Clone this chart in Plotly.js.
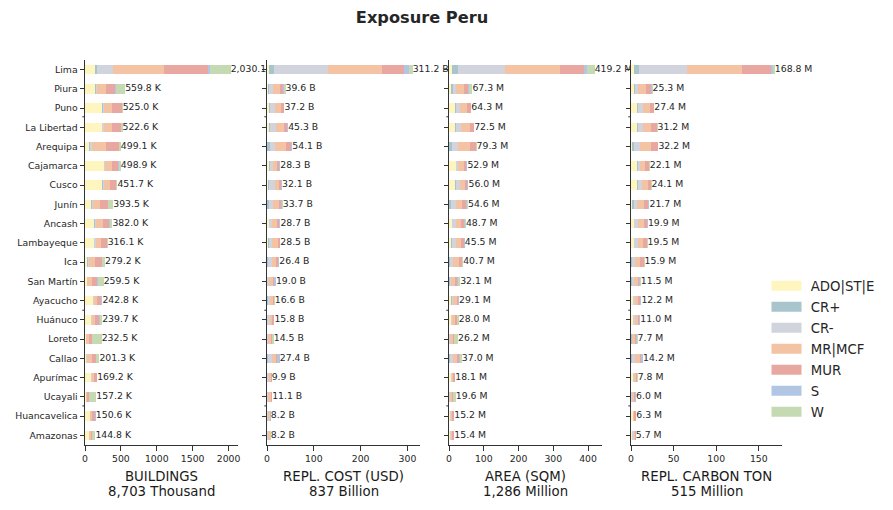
<!DOCTYPE html>
<html>
<head>
<meta charset="utf-8">
<script src="https://cdn.plot.ly/plotly-3.0.1.min.js"></script>
<style>html,body{margin:0;padding:0;background:#fff}#chart{width:893px;height:510px}</style>
</head>
<body>
<div id="chart"></div>
<script>
// ---------------- DATA ----------------
const categories = ["Lima","Piura","Puno","La Libertad","Arequipa","Cajamarca","Cusco","Junín","Ancash","Lambayeque","Ica","San Martín","Ayacucho","Huánuco","Loreto","Callao","Apurímac","Ucayali","Huancavelica","Amazonas"];
const classes = ["ADO|ST|E","CR+","CR-","MR|MCF","MUR","S","W"];

// BUILDINGS (thousand)
const bld_ADO = [140,140,240,238,51,262,240,80,132,126,23,23,107,84,9,9,84,9,70,56];
const bld_CRp = [30,14,14,5,19,5,5,14,5,5,14,5,5,5,3,5,3,3,3,3];
const bld_CRm = [215,18,9,23,23,5,23,23,14,19,19,5,19,5,3,14,9,3,3,3];
const bld_MR  = [715,121,118,112,195,100,84,95,104,70,84,62,33,47,42,64,28,19,23,19];
const bld_MUR = [610,131,130,121,182,90,75,102,85,88,93,77,65,57,37,59,37,23,47,19];
const bld_S   = [35,9,5,5,5,9,5,9,5,5,5,5,5,5,3,5,3,3,1,3];
const bld_W   = [285,127,9,19,24,28,20,71,37,3,41,83,9,37,135,45,5,97,4,42];
const bld_total = [2030.1,559.8,525.0,522.6,499.1,498.9,451.7,393.5,382.0,316.1,279.2,259.5,242.8,239.7,232.5,201.3,169.2,157.2,150.6,144.8];

// REPL. COST (billion USD)
const cost_ADO = [3.6,2.3,4.5,4.3,0.5,4.4,2.9,0.5,3.8,3.0,0.5,0.5,0.7,0.5,0.3,0.3,0.7,0.3,0.3,0.5];
const cost_CRp = [11,2.3,2.3,2.9,5.8,2.2,2.2,3.6,0.8,0.7,2.3,0.5,2.2,0.5,0.3,2.2,0.3,0.3,0.3,0.2];
const cost_CRm = [115,9,10.5,11.7,10.8,5.2,11.5,9.4,5.2,6.0,8.4,2.9,3.5,5.8,1.4,9.2,2.9,1.4,0.7,0.5];
const cost_MR  = [115,15,12.6,17.5,23.8,9.0,9.3,12.2,11.4,13.4,8.5,8.4,7.0,3.6,6.3,7.1,5.0,6.5,5.0,5.0];
const cost_MUR = [48,6,6,6.6,10.5,5.2,3.5,3.6,4.5,4.5,4.6,2.2,1.4,3.6,1.4,3.6,0.7,1.4,0.7,0.7];
const cost_S   = [11,1.4,0.8,1.5,2.2,1.5,2.2,2.2,2.3,0.6,1.5,4.2,0.6,1.5,1.4,4.7,0.3,0.7,1.2,0.3];
const cost_W   = [7.5,3.6,0.5,0.8,0.5,0.8,0.5,2.2,0.7,0.3,0.6,0.3,1.2,0.3,3.4,0.3,0.0,0.5,0.0,1.0];
const cost_total = [311.2,39.6,37.2,45.3,54.1,28.3,32.1,33.7,28.7,28.5,26.4,19.0,16.6,15.8,14.5,27.4,9.9,11.1,8.2,8.2];

// AREA (million sqm)
const area_ADO = [10,7,17,17,1,19,17,1,8,7,1,1,7,5,0.5,0.5,5,0.5,4,4];
const area_CRp = [15,5,2,2,8,1,2,4,2,1,2,1,1,1,0.5,2,0.5,0.5,0.3,0.3];
const area_CRm = [135,7,13,16,17,6,13,15,9,11,9,3,4,4,1,9,2,0.5,1,0.7];
const area_MR  = [158,25,21,24,33,16,15,18.6,15.7,16,17.7,11.1,10.1,7,8.2,11.5,5.1,6.1,3,4];
const area_MUR = [70,11.3,9,12.5,17.3,6.9,5.5,9,8,9,8,6,4,5,4,7,4,3,5,4];
const area_S   = [9,2,1.8,0.5,1,2,3,3,2,1,1,3,2,1,1,2,0.5,0.5,0.5,0.4];
const area_W   = [22,10,0.5,0.5,2,2,0.5,4,4,0.5,2,7,1,5,11,5,1,8.5,1.4,2];
const area_total = [419.2,67.3,64.3,72.5,79.3,52.9,56.0,54.6,48.7,45.5,40.7,32.1,29.1,28.0,26.2,37.0,18.1,19.6,15.2,15.4];

// REPL. CARBON (million ton)
const carb_ADO = [3.9,3.5,7.2,7.0,1.2,7.0,7.0,1.2,3.5,3.5,0.4,0.4,2.3,2.0,0.3,0.3,2.3,0.2,2.0,1.2];
const carb_CRp = [5.9,0.8,0.8,0.8,2.3,1.2,0.8,2.0,0.4,0.4,1.2,0.4,0.4,0.4,0.3,0.8,0.3,0.2,0.2,0.2];
const carb_CRm = [56,4.3,5.7,6.3,6.5,2.7,5.6,4.3,4.8,4.8,2.7,2.3,2.0,2.3,0.8,3.7,1.3,0.4,0.4,1.6];
const carb_MR  = [64,9.0,8.2,9.5,13.2,6.0,6.0,8.3,6.0,5.7,6.6,5.1,3.9,3.1,3.5,5.7,1.8,3.1,1.2,2.0];
const carb_MUR = [34,6.1,4.9,6.6,8.1,3.9,3.6,4.3,4.0,4.1,3.9,1.6,2.3,2.0,1.2,1.7,1.3,1.2,1.6,0.4];
const carb_S   = [2.7,0.8,0.4,0.6,0.6,0.8,0.8,0.8,0.8,0.6,0.6,1.2,0.8,0.6,1.2,1.6,0.5,0.5,0.4,0.2];
const carb_W   = [2.3,0.8,0.2,0.4,0.3,0.5,0.3,0.8,0.4,0.4,0.5,0.5,0.5,0.6,0.4,0.4,0.3,0.4,0.5,0.1];
const carb_total = [168.8,25.3,27.4,31.2,32.2,22.1,24.1,21.7,19.9,19.5,15.9,11.5,12.2,11.0,7.7,14.2,7.8,6.0,6.3,5.7];

const axisTitles = ["BUILDINGS","REPL. COST (USD)","AREA (SQM)","REPL. CARBON TON"];
const axisTotals = ["8,703 Thousand","837 Billion","1,286 Million","515 Million"];
const unitLabels = ["K","B","M","M"];

// ---------------- BUILD ----------------
const colors = ["#fff5bf","#a8c4cc","#d1d4dc","#f4c3a4","#e8a8a1","#b1c5e5","#c5d9b2"];
const panels = [
  {series:[bld_ADO,bld_CRp,bld_CRm,bld_MR,bld_MUR,bld_S,bld_W], total:bld_total},
  {series:[cost_ADO,cost_CRp,cost_CRm,cost_MR,cost_MUR,cost_S,cost_W], total:cost_total},
  {series:[area_ADO,area_CRp,area_CRm,area_MR,area_MUR,area_S,area_W], total:area_total},
  {series:[carb_ADO,carb_CRp,carb_CRm,carb_MR,carb_MUR,carb_S,carb_W], total:carb_total}
];
const FONT = "DejaVu Sans";
const TXT = "#262626";
const W = 893, H = 510;
const xPix = [[85,238],[267,420],[449,602],[631,782]];
const yDom = [(H-445)/H, (H-60)/H];
const minorTickPos = [2.45, 12.5, 17.47];

const traces = [];
const annotations = [];
const shapes = [];
const layout = {
  width: W, height: H,
  margin: {l:0,r:0,t:0,b:0},
  paper_bgcolor: "#fff", plot_bgcolor: "#fff",
  barmode: "stack",
  bargap: 0.5,
  showlegend: true,
  font: {family: FONT, color: TXT},
  title: {text: "<b>Exposure Peru</b>", x: 0.4726, xanchor: "center", y: 1 - 17/H, yanchor: "middle",
          font: {family: FONT, size: 16.2, color: TXT}},
  legend: {x: 766.5/W, xanchor: "left", y: 1 - 270.7/H, yanchor: "top", traceorder: "grouped",
           itemwidth: 30, tracegroupgap: 0.7, font: {family: FONT, size: 13.3, color: TXT}, bgcolor: "rgba(0,0,0,0)"},
  annotations: annotations,
  shapes: shapes
};

panels.forEach((p, i) => {
  const sx = i === 0 ? "" : String(i+1);
  const xa = "x" + sx, ya = "y" + sx;
  p.series.forEach((vals, k) => {
    traces.push({type: "bar", orientation: "h", x: vals, y: categories, xaxis: xa, yaxis: ya,
      marker: {color: colors[k], line: {width: 0}}, name: classes[k], showlegend: false, hoverinfo: "x+name"});
  });
  traces.push({type: "scatter", mode: "text", x: p.total, y: categories, xaxis: xa, yaxis: ya,
    text: p.total.map(v => v.toLocaleString("en-US",{minimumFractionDigits:1, maximumFractionDigits:1}) + " " + unitLabels[i]),
    textposition: "middle right", textfont: {family: FONT, size: 9.3, color: TXT},
    cliponaxis: false, showlegend: false, hoverinfo: "skip"});
  const maxv = Math.max(...p.total);
  layout["xaxis" + sx] = {
    domain: [xPix[i][0]/W, xPix[i][1]/W], anchor: ya, range: [0, maxv*1.05],
    showline: true, linecolor: "#333", linewidth: 1, ticks: "outside", ticklen: 4.5, tickcolor: "#333",
    showgrid: false, zeroline: false, tickfont: {family: FONT, size: 9.3, color: TXT}
  };
  layout["yaxis" + sx] = {
    domain: yDom, anchor: xa, type: "category", categoryarray: categories, range: [19.5, -0.5],
    showline: true, linecolor: "#333", linewidth: 1, ticks: "outside", ticklen: 4.5, tickcolor: "#333",
    showgrid: false, zeroline: false, showticklabels: i === 0,
    tickfont: {family: FONT, size: 9.3, color: TXT}
  };
  const cx = (xPix[i][0] + xPix[i][1]) / 2 / W;
  annotations.push({text: axisTitles[i], xref: "paper", yref: "paper", x: cx, y: 1 - 476.7/H,
    xanchor: "center", yanchor: "middle", showarrow: false, font: {family: FONT, size: 13.3, color: "#1a1a1a"}});
  annotations.push({text: axisTotals[i], xref: "paper", yref: "paper", x: cx, y: 1 - 491.7/H,
    xanchor: "center", yanchor: "middle", showarrow: false, font: {family: FONT, size: 13.3, color: "#1a1a1a"}});
  minorTickPos.forEach(v => {
    shapes.push({type: "line", xref: "paper", yref: ya, x0: (xPix[i][0] - 2.7)/W, x1: xPix[i][0]/W,
      y0: v, y1: v, line: {color: "#333", width: 1}});
  });
});

classes.forEach((c, k) => {
  traces.push({type: "scatter", mode: "lines", x: [null], y: [null], name: "\u00A0" + c, legendgroup: c,
    line: {color: colors[k], width: 10}, showlegend: true, hoverinfo: "skip"});
});

Plotly.newPlot("chart", traces, layout, {displayModeBar: false, staticPlot: true});
</script>
</body>
</html>
